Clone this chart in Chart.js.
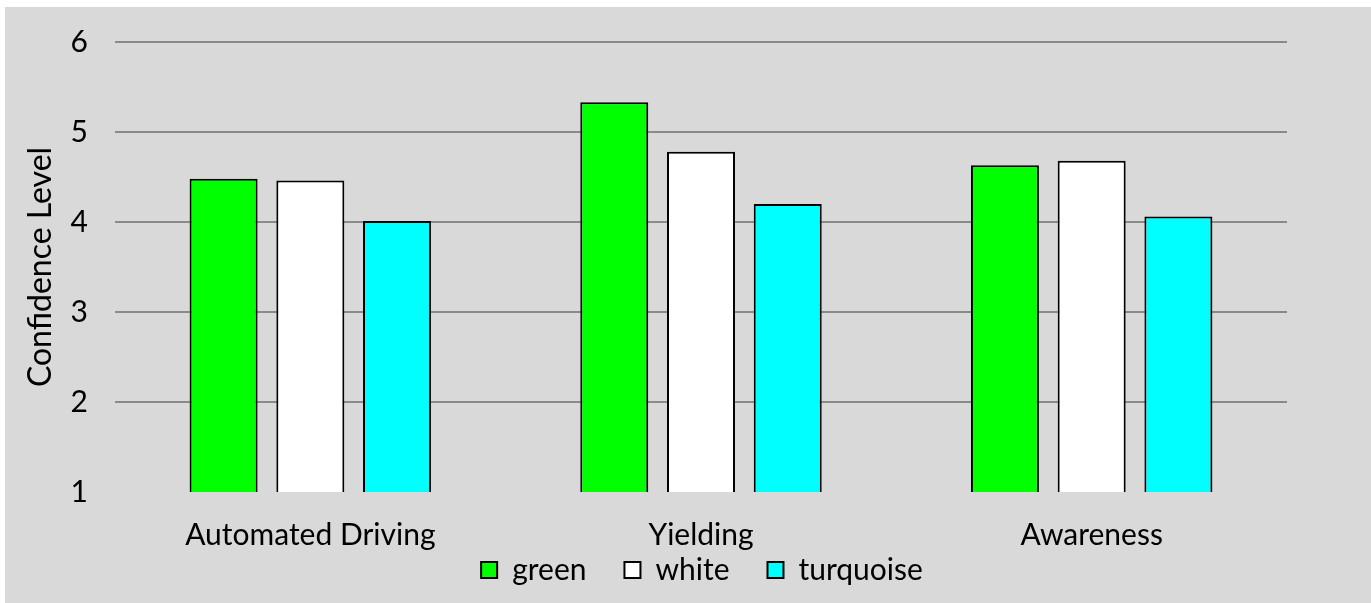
<!DOCTYPE html>
<html>
<head>
<meta charset="utf-8">
<script src="https://cdn.jsdelivr.net/npm/chart.js@4/dist/chart.umd.min.js"></script>
<style>
  html, body { margin: 0; padding: 0; background: #ffffff; }
  #wrap { position: absolute; left: 5px; top: 7px; width: 1366px; height: 596px; background: #d9d9d9; }
</style>
</head>
<body>
<div id="wrap"><canvas id="chart"></canvas></div>
<script>
// values
const categories = ["Automated Driving", "Yielding", "Awareness"];
const greenVals = [4.48, 5.33, 4.63];
const whiteVals = [4.46, 4.78, 4.68];
const turquoiseVals = [4.01, 4.20, 4.06];
const yTicks = [1, 2, 3, 4, 5, 6];

const FONT = "Lato, 'Open Sans', sans-serif";
const LEGEND_PAD = 38;

// legend takes no layout space; it is put in the strip under the axis labels
const placeLegend = {
  id: "placeLegend",
  beforeLayout(chart) {
    const lg = chart.legend;
    if (lg && !lg._noSpace) {
      const fit = lg.fit;
      lg.fit = function () { fit.call(this); this.height = 0; };
      lg._noSpace = true;
    }
  },
  afterLayout(chart) {
    const lg = chart.legend;
    const dx = 697 - (lg.left + lg.right) / 2;
    lg.left += dx; lg.right += dx;
    lg.top = 563 - LEGEND_PAD - 15;
    lg.bottom = lg.top + 2 * LEGEND_PAD + 30;
  },
};

const ctx = document.getElementById("chart").getContext("2d");

new Chart(ctx, {
  type: "bar",
  data: {
    labels: categories,
    datasets: [
      { label: "green", data: greenVals, backgroundColor: "#00ff00" },
      { label: "white", data: whiteVals, backgroundColor: "#ffffff" },
      { label: "turquoise", data: turquoiseVals, backgroundColor: "#00ffff" },
    ].map(d => Object.assign(d, {
      borderColor: "#000000",
      borderWidth: 2,
      categoryPercentage: 0.666,
      barPercentage: 0.784,
    })),
  },
  plugins: [placeLegend],
  options: {
    responsive: true,
    maintainAspectRatio: false,
    animation: false,
    layout: { padding: { left: 0, right: 84, top: 35, bottom: 0 } },
    scales: {
      x: {
        grid: { display: false, drawTicks: false },
        border: { display: false },
        ticks: { color: "#000", font: { family: FONT, size: 30 }, padding: 25 },
        afterFit: s => { s.height = 111; },
      },
      y: {
        min: 1,
        max: 6,
        afterBuildTicks: s => { s.ticks = yTicks.map(v => ({ value: v })); },
        grid: {
          drawTicks: false,
          lineWidth: 2,
          color: c => (c.tick && c.tick.value === 1 ? "rgba(0,0,0,0)" : "#8a8a8a"),
        },
        border: { display: false },
        ticks: { color: "#000", font: { family: FONT, size: 30 }, padding: 27 },
        title: {
          display: true,
          text: "Confidence Level",
          color: "#000",
          font: { family: FONT, size: 32 },
          padding: { top: 16, bottom: 0 },
        },
        afterFit: s => {
          s.width = 110;
          s.paddingTop = 0;
          s.paddingBottom = 0;
        },
      },
    },
    plugins: {
      legend: {
        display: true,
        position: "bottom",
        labels: {
          color: "#000",
          font: { family: FONT, size: 30 },
          boxWidth: 16,
          boxHeight: 16,
          padding: LEGEND_PAD,
          useBorderRadius: false,
        },
      },
      tooltip: { enabled: false },
    },
  },
});
</script>
</body>
</html>
